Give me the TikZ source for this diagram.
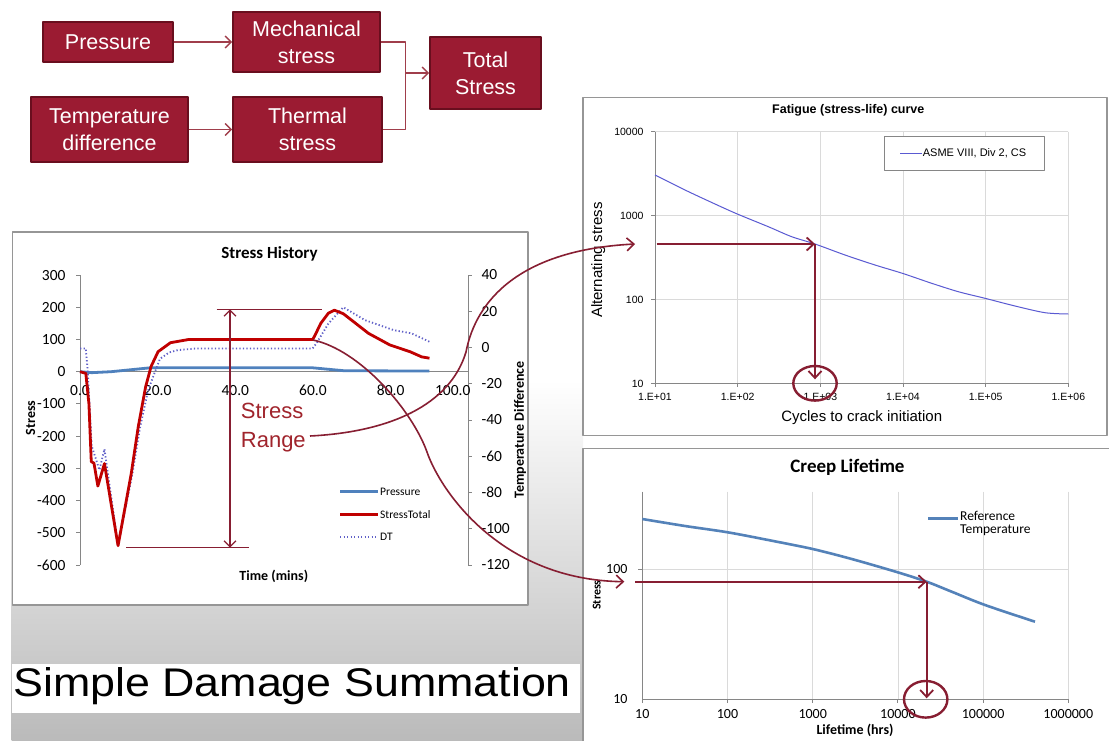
\documentclass[tikz,border=0pt]{standalone}
\usepackage{fontspec}
\setmainfont{Liberation Sans}
\newfontfamily\carl{Carlito}
\usetikzlibrary{arrows.meta}
\definecolor{boxred}{RGB}{155,27,50}
\definecolor{boxedge}{RGB}{105,14,30}
\definecolor{linkred}{RGB}{160,62,75}
\definecolor{annred}{RGB}{135,30,50}
\definecolor{txtred}{RGB}{160,36,44}
\definecolor{stred}{RGB}{192,0,0}
\definecolor{prblue}{RGB}{79,129,189}
\definecolor{dtblue}{RGB}{96,96,200}
\definecolor{fatblue}{RGB}{90,90,210}
\definecolor{crblue}{RGB}{84,130,185}
\definecolor{gridc}{RGB}{218,218,218}
\definecolor{axc}{RGB}{134,134,134}
\definecolor{framec}{RGB}{150,150,150}
\newcommand{\fs}[1]{\fontsize{#1}{#1}\selectfont}
\begin{document}
\begin{tikzpicture}[x=1pt,y=-1pt,line join=round,
  box/.style={draw=boxedge,line width=1.6pt,fill=boxred,text=white,align=center,inner sep=0pt,font=\fontsize{21.5}{27}\selectfont},
  link/.style={draw=linkred,line width=1.4pt},
  barb/.style={-{Straight Barb[length=6pt,width=12pt]}},
  ann/.style={draw=annred,line width=1.8pt},
  bigbarb/.style={-{Straight Barb[length=7pt,width=13pt]}},
  shtick/.style={font=\carl\fs{15.5}},
  crtick/.style={font=\carl\fs{14}},
  fttick/.style={font=\fs{10.5}},
  grid/.style={draw=gridc,line width=0.8pt},
  axis/.style={draw=axc,line width=0.9pt}]
\useasboundingbox (0,0) rectangle (1109,741);
\fill[white] (0,0) rectangle (1109,741);
% background gradient and title band
\shade[top color=white,bottom color=black!27] (11.7,380) rectangle (583,741);
\fill[white] (11.7,664) rectangle (580,713);
\node[anchor=base west,inner sep=0pt,font=\fs{40}] (title) at (13,696) {\scalebox{1.12}[1]{Simple Damage Summation}};

% ---------------- top block diagram ----------------
\node[box,minimum width=130pt,minimum height=40pt] (press) at (108,42) {Pressure};
\node[box,minimum width=147pt,minimum height=60pt] (mech) at (306.5,42) {Mechanical\\stress};
\node[box,minimum width=157pt,minimum height=65pt] (temp) at (109.5,129.5) {Temperature\\difference};
\node[box,minimum width=149pt,minimum height=65pt] (therm) at (307.5,129.5) {Thermal\\stress};
\node[box,minimum width=111pt,minimum height=72pt] (total) at (485.5,73) {Total\\Stress};
\coordinate (junc) at (405.7,73);
\draw[link,barb] (press.east) -- (mech.west);
\draw[link,barb] (temp.east) -- (therm.west);
\draw[link] (mech.east) -| (junc);
\draw[link] (therm.east) -| (junc);
\draw[link,barb] (junc) -- (total.west);

% ---------------- Stress History chart ----------------
\draw[framec,fill=white,line width=1.2pt] (12.7,232) rectangle (528,605);
\node[font=\carl\bfseries\fs{17}] (shtitle) at (269.5,254.3) {Stress History};
\draw[axis] (80,275) -- (80,565);
\draw[axis] (468.3,275) -- (468.3,565);
\draw[axis] (80,371.7) -- (468.3,371.7);
\foreach \v in {300,200,...,-600}{
  \draw[axis] (76,{371.7-0.3222*\v}) -- (80,{371.7-0.3222*\v});
  \node[shtick,anchor=east] at (69,{371.7-0.3222*\v}) {\v};}
\foreach \v in {40,20,...,-120}{
  \draw[axis] (468.3,{275+(40-\v)*1.8125}) -- (472.3,{275+(40-\v)*1.8125});
  \node[shtick,anchor=west] at (478,{275+(40-\v)*1.8125}) {\v};}
\foreach \v/\l in {0/0.0,20/20.0,40/40.0,60/60.0,80/80.0}
  \node[shtick] at ({80+3.883*\v},390.7) {\l};
\node[shtick,anchor=east] at (474,390.7) {100.0};
\node[font=\carl\bfseries\fs{14},rotate=90] (shy) at (30.7,418) {Stress};
\node[font=\carl\bfseries\fs{14},rotate=90] (shy2) at (520,430) {Temperature Difference};
\node[font=\carl\bfseries\fs{14}] (shx) at (273.8,576.7) {Time (mins)};
\begin{scope}[shift={(80pt,-371.7pt)},x=3.883pt,y=0.3222pt]
  \draw[prblue,line width=2.8pt] plot coordinates {(0,0) (3,-3) (8,0) (18,12) (60,12) (68,3) (90,2)};
  \draw[dtblue,line width=1.8pt,dash pattern=on 1.3pt off 2.2pt] plot coordinates {(0,72) (1.5,72) (2.0,0) (3.0,-230) (5.0,-305) (6.3,-240) (9.8,-540) (13.5,-316) (15.5,-171) (17.5,-60) (19,-10) (20.6,40) (23,60) (25.2,67) (29.8,72) (59.9,72) (61,90) (64,150) (67.8,200) (73.4,160) (80.8,129) (85.4,119) (90,93)};
  \draw[stred,line width=2.8pt] plot coordinates {(0,0) (1.5,-5) (2.3,-100) (2.9,-279) (3.6,-284) (4.6,-355) (6.3,-285) (9.8,-540) (13.2,-316) (15,-171) (16.9,-47) (18.3,16) (20.1,62) (23.3,90) (28,100) (59.9,100) (60.4,110) (62,150) (64,182) (65.5,191) (67.8,180) (71,150) (74.3,119) (79.8,83) (85,62) (88,46) (90,42)};
\end{scope}
% legend
\draw[prblue,line width=2.8pt] (340,491.7) -- (378,491.7);
\draw[stred,line width=2.8pt] (340,514.3) -- (378,514.3);
\draw[dtblue,line width=1.8pt,dash pattern=on 1.3pt off 2.2pt] (340,537.3) -- (378,537.3);
\node[font=\carl\fs{11.5},anchor=west,inner sep=1pt] (lg1) at (379,491.7) {Pressure};
\node[font=\carl\fs{11.5},anchor=west,inner sep=1pt] (lg2) at (379,514.3) {StressTotal};
\node[font=\carl\fs{11.5},anchor=west,inner sep=1pt] (lg3) at (379,537.3) {DT};
% stress range annotation
\coordinate (rtopL) at (216.7,309.3); \coordinate (rtopR) at (321.7,309.3);
\coordinate (rbotL) at (126,547.7); \coordinate (rbotR) at (249.3,547.7);
\coordinate (rup) at (230,309.3); \coordinate (rdn) at (230,547.7);
\draw[annred,line width=1.3pt] (rtopL) -- (rtopR);
\draw[annred,line width=1.3pt] (rbotL) -- (rbotR);
\draw[annred,line width=1.3pt,{Straight Barb[length=6pt,width=12pt]}-{Straight Barb[length=6pt,width=12pt]}] (rup) -- (rdn);
\node[anchor=west,align=left,inner sep=0pt,text=txtred,font=\fontsize{22}{28.4}\selectfont] (srange) at (240.7,427.5) {Stress\\Range};

% ---------------- Fatigue chart ----------------
\draw[framec,fill=white,line width=1.2pt] (583,97.3) rectangle (1107,435.7);
\node[font=\bfseries\fs{12.5}] (fttitle) at (848.3,110.7) {Fatigue (stress-life) curve};
\foreach \i in {1,...,5} \draw[grid] ({655+82.67*\i},131.7) -- ({655+82.67*\i},383.3);
\foreach \j in {0,...,2} \draw[grid] (655,{131.7+83.9*\j}) -- (1068.3,{131.7+83.9*\j});
\draw[axis] (655,131.7) -- (655,383.3) -- (1068.3,383.3);
\foreach \j/\l in {0/10000,1/1000,2/100,3/10}{
  \draw[axis] (651,{131.7+83.9*\j}) -- (655,{131.7+83.9*\j});
  \node[fttick,anchor=east] at (647,{131.7+83.9*\j}) {\l};}
\foreach \i/\l in {0/1.E+01,1/1.E+02,2/1.E+03,3/1.E+04,4/1.E+05,5/1.E+06}{
  \draw[axis] ({655+82.67*\i},383.3) -- ({655+82.67*\i},387.3);
  \node[fttick] at ({655+82.67*\i},397.3) {\l};}
\node[font=\fs{15},rotate=90] (fty) at (598.3,260) {Alternating stress};
\node[font=\fs{15}] (ftx) at (861.7,417.7) {Cycles to crack initiation};
\draw[axc,line width=0.9pt,fill=white] (884.3,136.7) rectangle (1044.3,170);
\draw[fatblue,line width=1pt] (900,153.3) -- (921.7,153.3);
\node[font=\fs{11},anchor=west,inner sep=1pt] (ftlg) at (921.7,153.3) {ASME VIII, Div 2, CS};
\draw[fatblue,line width=1pt] plot[smooth] coordinates {(655,175) (685,190) (715,204) (737.3,214) (768.3,226.7) (791.7,236.7) (815,244) (845,255) (875,265) (902.3,273.3) (931.7,283.3) (958.3,291.7) (985,298.3) (1015,306) (1045,312.7) (1068.3,314)};
\coordinate (faxis) at (656.7,244);
\coordinate (fpt) at (815,244);
\coordinate (fbot) at (815,379.3);
\coordinate (fcirc) at (815,383.3);
\draw[ann,bigbarb] (faxis) -- (fpt);
\draw[ann,bigbarb] (fpt) -- (fbot);
\draw[annred,line width=2.4pt] (fcirc) ellipse [x radius=21.7pt,y radius=17.3pt];

% ---------------- Creep chart ----------------
\fill[white] (583,448.3) rectangle (1109,741);
\draw[framec,line width=1.2pt] (583,741) -- (583,448.3) -- (1109,448.3);
\node[font=\carl\bfseries\fs{19}] (crtitle) at (847.5,467.3) {Creep Lifetime};
\foreach \i in {1,...,5} \draw[grid] ({642.3+85.2*\i},491.7) -- ({642.3+85.2*\i},699.3);
\draw[grid] (642.3,569.3) -- (1068.3,569.3);
\draw[axis] (642.3,491.7) -- (642.3,699.3) -- (1068.3,699.3);
\foreach \i/\l in {0/10,1/100,2/1000,3/10000,4/100000,5/1000000}{
  \draw[axis] ({642.3+85.2*\i},699.3) -- ({642.3+85.2*\i},703.3);
  \node[crtick] at ({642.3+85.2*\i},714) {\l};}
\draw[axis] (638.3,569.3) -- (642.3,569.3);
\node[crtick,anchor=east] at (631,569.3) {100};
\node[crtick,anchor=east] at (631,699.3) {10};
\node[font=\carl\bfseries\fs{12},rotate=90] (cry) at (596.7,595) {Stress};
\node[font=\carl\bfseries\fs{14}] (crx) at (855,730.7) {Lifetime (hrs)};
\draw[crblue,line width=2.6pt] (928.3,518.3) -- (958.3,518.3);
\node[font=\carl\fs{13.5},anchor=north west,align=left,inner sep=0pt] (crlg) at (960,511) {\fontsize{13.5}{13.5}\selectfont Reference\\Temperature};
\draw[crblue,line width=2.6pt] plot[smooth] coordinates {(642.3,519) (685,526) (727.7,532.3) (771.7,540.7) (812.7,549) (851.7,559) (897.7,572.3) (926.7,581.7) (951.7,591.7) (985,605) (1035,621.7)};
\coordinate (caxis) at (635,581.7);
\coordinate (cpt) at (926.7,581.7);
\coordinate (cbot) at (926.7,698.3);
\coordinate (ccirc) at (925.7,699.3);
\draw[ann,bigbarb] (caxis) -- (cpt);
\draw[ann,bigbarb] (cpt) -- (cbot);
\draw[annred,line width=2.4pt] (ccirc) ellipse [x radius=21.7pt,y radius=18.3pt];

% ---------------- curved connectors ----------------
\coordinate (c1s) at (310,436);
\coordinate (c1m) at (466,352);
\coordinate (fin) at (635,244);
\draw[annred,line width=1.6pt,bigbarb] (c1s) .. controls (390,432) and (450,405) .. (c1m) .. controls (476,300) and (520,250) .. (fin);
\coordinate (c2s) at (313,340);
\coordinate (c2m) at (427,452);
\coordinate (cin) at (624.3,581.7);
\draw[annred,line width=1.6pt,bigbarb] (c2s) .. controls (360,350) and (412,410) .. (c2m) .. controls (440,490) and (500,580) .. (cin);
\end{tikzpicture}
\end{document}
